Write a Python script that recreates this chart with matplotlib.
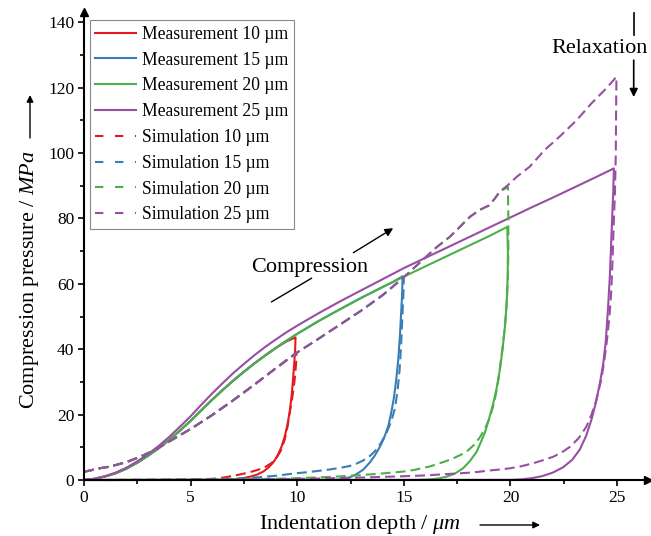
import matplotlib
matplotlib.use("Agg")
import matplotlib.pyplot as plt
from matplotlib.lines import Line2D
from matplotlib.ticker import MultipleLocator

plt.rcParams['font.family'] = ['Liberation Serif', 'DejaVu Serif']
plt.rcParams['mathtext.fontset'] = 'custom'
plt.rcParams['mathtext.it'] = 'Liberation Serif:italic'
plt.rcParams['mathtext.rm'] = 'Liberation Serif'

# ---- measurement curves (loading, then unloading back to zero) ----
m10_x = [0, 0.5, 1, 1.5, 2, 2.5, 3, 3.5, 4, 4.5, 5, 5.5, 6, 6.5, 7, 7.5, 8, 8.5, 9, 9.5, 9.92,
         9.9, 9.86, 9.8, 9.74, 9.65, 9.53, 9.4, 9.27, 9.08, 8.88, 8.65, 8.41, 8.1, 7.78, 7.4, 7.0, 6.5, 0]
m10_y = [0, 0.35, 1.1, 2.1, 3.5, 5.3, 7.4, 9.7, 12.3, 15.1, 18.1, 21.3, 24.5, 27.5, 30.4, 33.1, 35.7, 38.1, 40.4, 42.4, 43.6,
         39.5, 35.7, 30.5, 26.0, 21.0, 16.5, 13.0, 10.3, 7.5, 5.4, 3.8, 2.6, 1.6, 1.0, 0.5, 0.2, 0.05, 0]

m15_x = [0, 0.5, 1, 1.5, 2, 2.5, 3, 3.5, 4, 4.5, 5, 5.5, 6, 6.5, 7, 7.5, 8, 8.5, 9, 9.5, 10, 11, 12, 13, 14, 14.5, 14.94,
         14.92, 14.88, 14.82, 14.74, 14.64, 14.53, 14.4, 14.27, 14.08, 13.88, 13.65, 13.41, 13.1, 12.78, 12.5, 12.2, 11.8, 0]
m15_y = [0, 0.35, 1.1, 2.1, 3.5, 5.3, 7.4, 9.7, 12.3, 15.1, 18.1, 21.3, 24.5, 27.5, 30.4, 33.1, 35.7, 38.1, 40.4, 42.6, 44.7, 48.6, 52.2, 55.7, 59.0, 60.6, 62.3,
         57.0, 52.0, 44.5, 37.0, 30.5, 25.0, 20.3, 16.5, 13.0, 10.2, 7.6, 5.4, 3.2, 1.8, 0.9, 0.35, 0.05, 0]

m20_x = [0, 0.5, 1, 1.5, 2, 2.5, 3, 3.5, 4, 4.5, 5, 5.5, 6, 6.5, 7, 7.5, 8, 8.5, 9, 9.5, 10, 11, 12, 13, 14, 15, 16, 17, 18, 19, 19.85,
         19.88, 19.87, 19.82, 19.74, 19.63, 19.5, 19.35, 19.19, 19.0, 18.8, 18.6, 18.41, 18.1, 17.78, 17.4, 17.0, 16.6, 16.2, 15.6, 0]
m20_y = [0, 0.35, 1.1, 2.1, 3.5, 5.3, 7.4, 9.7, 12.3, 15.1, 18.1, 21.3, 24.5, 27.5, 30.4, 33.1, 35.7, 38.1, 40.4, 42.6, 44.7, 48.6, 52.2, 55.7, 59.0, 62.2, 65.3, 68.4, 71.5, 74.6, 77.4,
         70.0, 62.2, 54.0, 46.9, 40.0, 33.6, 28.0, 23.4, 18.8, 14.5, 11.4, 8.6, 5.8, 3.6, 2.0, 1.0, 0.45, 0.15, 0, 0]

m25_x = [0, 0.5, 1, 1.5, 2, 2.5, 3, 3.5, 4, 4.5, 5, 5.5, 6, 6.5, 7, 7.5, 8, 8.5, 9, 9.5, 10, 11, 12, 13, 14, 15,
         16, 17, 18, 19, 20, 21, 22, 23, 24, 24.85,
         24.82, 24.78, 24.72, 24.66, 24.57, 24.47, 24.35, 24.19, 24.0, 23.8, 23.55, 23.25, 22.9, 22.47, 22.0, 21.5,
         21.0, 20.5, 20.0, 0]
m25_y = [0, 0.4, 1.2, 2.3, 3.8, 5.7, 7.9, 10.4, 13.2, 16.3, 19.5, 23.0, 26.4, 29.6, 32.7, 35.5, 38.2, 40.7, 43.0, 45.2, 47.2, 51.0, 54.6, 58.0, 61.4, 64.8,
         67.9, 71.0, 74.1, 77.2, 80.3, 83.4, 86.4, 89.5, 92.6, 95.3,
         88.0, 82.0, 72.0, 62.2, 52.0, 42.5, 35.5, 29.5, 23.5, 18.5, 13.5, 9.3, 6.2, 3.9, 2.3, 1.2,
         0.55, 0.2, 0.05, 0]

# ---- simulation curves (shared loading path, then unloading) ----
s10_x = [0, 0.75, 1.22, 2.0, 2.63, 3.2, 3.72, 4.0, 5.0, 6.0, 7.0, 8.0, 9.0, 9.97,
         9.95, 9.9, 9.83, 9.75, 9.66, 9.55, 9.42, 9.25, 9.05, 8.8, 8.5, 8.2, 7.78, 7.4, 7.0, 6.6, 6.2, 5.6, 4.5, 3.0, 1.0]
s10_y = [2.5, 3.6, 4.1, 5.5, 7.1, 8.8, 10.7, 11.8, 15.6, 19.8, 24.4, 29.2, 34.2, 39.0,
         36.0, 32.0, 28.0, 24.5, 21.0, 16.5, 12.5, 9.2, 7.0, 5.2, 4.0, 3.2, 2.4, 1.8, 1.3, 0.8, 0.45, 0.2, 0.08, 0.03, 0]

s15_x = [0, 0.75, 1.22, 2.0, 2.63, 3.2, 3.72, 4.0, 5.0, 6.0, 7.0, 8.0, 9.0, 10.0, 11.0, 12.0, 13.0, 14.0, 15.0,
         14.98, 14.93, 14.87, 14.8, 14.7, 14.58, 14.4, 14.2, 13.97, 13.73, 13.42, 13.1, 12.78, 12.47, 12.0, 11.5,
         11.0, 10.5, 10.0, 9.5, 9.0, 8.5, 8.0, 7.0, 6.0, 4.5, 3.0, 1.0]
s15_y = [2.5, 3.6, 4.1, 5.5, 7.1, 8.8, 10.7, 11.8, 15.6, 19.8, 24.4, 29.2, 34.2, 39.0, 43.2, 47.5, 51.8, 56.5, 62.0,
         57.0, 50.0, 41.0, 33.6, 27.0, 21.8, 17.8, 14.6, 11.8, 9.4, 7.4, 6.0, 5.0, 4.3, 3.7, 3.2,
         2.8, 2.4, 2.1, 1.7, 1.3, 1.0, 0.75, 0.4, 0.2, 0.08, 0.03, 0]

s20_x = [0, 0.75, 1.22, 2.0, 2.63, 3.2, 3.72, 4.0, 5.0, 6.0, 7.0, 8.0, 9.0, 10.0, 11.0, 12.0, 13.0, 14.0, 15.0,
         16.0, 16.5, 17.16, 18.1, 18.56, 19.0, 19.27, 19.5, 19.88,
         19.9, 19.9, 19.88, 19.84, 19.78, 19.7, 19.6, 19.42, 19.25, 19.03, 18.8, 18.56, 18.3, 18.0, 17.7, 17.31,
         16.9, 16.53, 16.2, 15.9, 15.5, 15.0, 14.0, 13.0, 12.0, 11.0, 10.0, 8.0, 6.0, 4.0, 1.0]
s20_y = [2.5, 3.6, 4.1, 5.5, 7.1, 8.8, 10.7, 11.8, 15.6, 19.8, 24.4, 29.2, 34.2, 39.0, 43.2, 47.5, 51.8, 56.5, 62.0,
         68.0, 71.0, 74.4, 80.5, 82.6, 84.0, 86.1, 88.2, 89.6,
         80.0, 70.0, 62.0, 56.0, 50.0, 44.5, 39.0, 30.0, 24.0, 19.0, 15.6, 13.0, 10.8, 9.0, 7.8, 6.6,
         5.6, 4.8, 4.1, 3.7, 3.1, 2.6, 2.0, 1.5, 1.1, 0.8, 0.55, 0.25, 0.1, 0.04, 0]

s25_x = [0, 0.75, 1.22, 2.0, 2.63, 3.2, 3.72, 4.0, 5.0, 6.0, 7.0, 8.0, 9.0, 10.0, 11.0, 12.0, 13.0, 14.0, 15.0,
         16.0, 16.5, 17.16, 18.1, 18.56, 19.0, 19.27, 19.5, 19.85, 20.29, 20.9, 21.6, 22.3, 23.1, 23.8, 24.5, 24.97,
         24.95, 24.94, 24.9, 24.84, 24.78, 24.72, 24.64, 24.53, 24.4, 24.26, 24.03, 23.8, 23.56, 23.2, 22.8, 22.4,
         22.0, 21.5, 21.06, 20.5, 20.0, 19.5, 19.0, 18.5, 18.0, 17.0, 16.0, 15.0, 14.0, 13.0, 12.0, 11.0, 10.0,
         8.0, 6.0, 4.0, 1.0]
s25_y = [2.5, 3.6, 4.1, 5.5, 7.1, 8.8, 10.7, 11.8, 15.6, 19.8, 24.4, 29.2, 34.2, 39.0, 43.2, 47.5, 51.8, 56.5, 62.0,
         68.0, 71.0, 74.4, 80.5, 82.6, 84.0, 86.1, 88.2, 90.0, 92.7, 95.8, 100.9, 105.0, 110.0, 115.2, 119.8, 123.3,
         110.0, 100.0, 88.0, 78.0, 66.0, 57.0, 50.0, 43.0, 36.5, 30.8, 24.5, 20.0, 16.3, 12.8, 10.2, 8.4,
         7.1, 6.0, 5.1, 4.2, 3.6, 3.2, 2.9, 2.5, 2.2, 1.8, 1.4, 1.15, 0.95, 0.75, 0.6, 0.45, 0.35,
         0.2, 0.1, 0.05, 0]

labels = ['10', '15', '20', '25']
colors = ['#e41a1c', '#377eb8', '#4daf4a', '#984ea3']
meas = [(m10_x, m10_y), (m15_x, m15_y), (m20_x, m20_y), (m25_x, m25_y)]
sims = [(s10_x, s10_y), (s15_x, s15_y), (s20_x, s20_y), (s25_x, s25_y)]

fig = plt.figure(figsize=(6.51, 5.36), dpi=100)
ax = fig.add_axes([84/651, 56/536, 564/651, 467.6/536])

for (x, y), c in zip(meas, colors):
    ax.plot(x, y, color=c, lw=1.5, clip_on=False)
for (x, y), c in zip(sims, colors):
    ax.plot(x, y, color=c, lw=1.5, dashes=(4.8, 2.4), clip_on=False)

ax.set_xlim(0, 26.45)
ax.set_ylim(0, 143)
ax.xaxis.set_major_locator(MultipleLocator(5))
ax.xaxis.set_minor_locator(MultipleLocator(2.5))
ax.yaxis.set_major_locator(MultipleLocator(20))
ax.yaxis.set_minor_locator(MultipleLocator(10))
ax.tick_params(which='major', direction='out', length=4, width=1.2, labelsize=12.5, pad=3)
ax.tick_params(which='minor', direction='out', length=3, width=1.2)
ax.spines['top'].set_visible(False)
ax.spines['right'].set_visible(False)
ax.spines['left'].set_linewidth(1.5)
ax.spines['bottom'].set_linewidth(1.5)
ax.plot(1, 0, '>k', ms=6, transform=ax.transAxes, clip_on=False)
ax.plot(0, 1, '^k', ms=6, transform=ax.transAxes, clip_on=False)

# legend
handles = []
for c, l in zip(colors, labels):
    handles.append(Line2D([], [], color=c, lw=1.5, label='Measurement ' + l + ' µm'))
for c, l in zip(colors, labels):
    handles.append(Line2D([], [], color=c, lw=1.5, dashes=(4, 5.6), label='Simulation ' + l + ' µm'))
leg = ax.legend(handles=handles, loc='upper left', bbox_to_anchor=(6/564, 1 - 8/467.6),
                fontsize=12.7, labelspacing=0.5, handlelength=2.3, handletextpad=0.35,
                borderpad=0.3, borderaxespad=0, fancybox=False, framealpha=1)
leg.get_frame().set_edgecolor('#888888')
leg.get_frame().set_linewidth(0.8)

# axis labels with arrows (figure pixel positions)
W, H = 651, 536
fig.text(360/W, 1 - 525/H, 'Indentation depth / $\\mu m$', fontsize=16, ha='center', va='center')
ax.annotate('', xy=(540, H - 525), xytext=(480, H - 525), xycoords='figure pixels',
            arrowprops=dict(arrowstyle='-|>', color='k', lw=1, mutation_scale=10, shrinkA=0, shrinkB=0))
fig.text(30/W, 1 - 280/H, 'Compression pressure / $MPa$', fontsize=16, rotation=90,
         ha='center', va='center')
ax.annotate('', xy=(30, H - 95), xytext=(30, H - 138), xycoords='figure pixels',
            arrowprops=dict(arrowstyle='-|>', color='k', lw=1, mutation_scale=10, shrinkA=0, shrinkB=0))

# annotations
ax.text(10.6, 65.1, 'Compression', fontsize=16, ha='center', va='center')
ax.plot([8.8, 10.67], [54.5, 61.7], color='k', lw=1)
ax.annotate('', xy=(14.5, 77.0), xytext=(12.63, 69.5),
            arrowprops=dict(arrowstyle='-|>', color='k', lw=1, mutation_scale=12, shrinkA=0, shrinkB=0))
ax.text(24.2, 132.1, 'Relaxation', fontsize=16, ha='center', va='center')
ax.plot([25.78, 25.78], [136, 142.8], color='k', lw=1.2, clip_on=False)
ax.annotate('', xy=(25.78, 117.1), xytext=(25.78, 128.4),
            arrowprops=dict(arrowstyle='-|>', color='k', lw=1.2, mutation_scale=12, shrinkA=0, shrinkB=0))

fig.savefig('out.png', dpi=100)
